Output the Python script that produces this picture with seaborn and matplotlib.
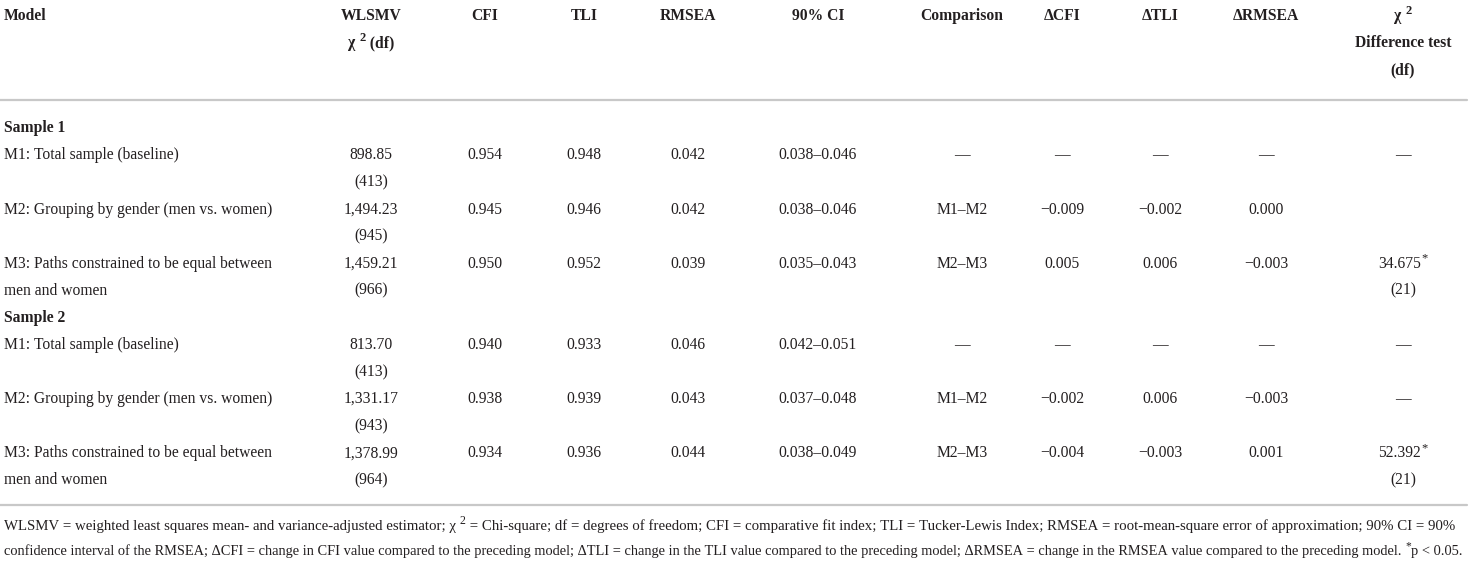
import numpy as np
import pandas as pd
import seaborn as sns
import matplotlib.pyplot as plt

# -----------------------------
# table content  ("^" marks a superscript run)
# -----------------------------
headers = [["Model"], ["WLSMV", "χ ^2^ (df)"], ["CFI"], ["TLI"], ["RMSEA"], ["90% CI"],
           ["Comparison"], ["ΔCFI"], ["ΔTLI"], ["ΔRMSEA"], ["χ ^2", "Difference test", "(df)"]]

samples = ["Sample 1", "Sample 2"]
model_l1 = ["M1: Total sample (baseline)",
            "M2: Grouping by gender (men vs. women)",
            "M3: Paths constrained to be equal between"]
model_l2 = ["", "", "men and women"]

chi2 = [["898.85", "1,494.23", "1,459.21"], ["813.70", "1,331.17", "1,378.99"]]
chi2_df = [["(413)", "(945)", "(966)"], ["(413)", "(943)", "(964)"]]
cfi = [["0.954", "0.945", "0.950"], ["0.940", "0.938", "0.934"]]
tli = [["0.948", "0.946", "0.952"], ["0.933", "0.939", "0.936"]]
rmsea = [["0.042", "0.042", "0.039"], ["0.046", "0.043", "0.044"]]
ci90 = [["0.038–0.046", "0.038–0.046", "0.035–0.043"], ["0.042–0.051", "0.037–0.048", "0.038–0.049"]]
comparison = [["—", "M1–M2", "M2–M3"], ["—", "M1–M2", "M2–M3"]]
d_cfi = [["—", "−0.009", "0.005"], ["—", "−0.002", "−0.004"]]
d_tli = [["—", "−0.002", "0.006"], ["—", "0.006", "−0.003"]]
d_rmsea = [["—", "0.000", "−0.003"], ["—", "−0.003", "0.001"]]
diff_test = [["—", "", "34.675^*"], ["—", "—", "52.392^*"]]
diff_df = [["", "", "(21)"], ["", "", "(21)"]]

footnote = [
    "WLSMV = weighted least squares mean- and variance-adjusted estimator; χ ^2^ = Chi-square; "
    "df = degrees of freedom; CFI = comparative fit index; TLI = Tucker-Lewis Index; "
    "RMSEA = root-mean-square error of approximation; 90% CI = 90%",
    "confidence interval of the RMSEA; ΔCFI = change in CFI value compared to the preceding model; "
    "ΔTLI = change in the TLI value compared to the preceding model; ΔRMSEA = change in the RMSEA "
    "value compared to the preceding model. ^*^p < 0.05.",
]

# -----------------------------
# style
# -----------------------------
sns.set_theme(style="white")
plt.rcParams["font.family"] = ["Liberation Serif", "DejaVu Serif"]
INK = "#231f20"
RULE = "#c8c8c8"
SUP = 0.8

W, H = 1471, 569
fig = plt.figure(figsize=(W / 100, H / 100), dpi=100)
ax = fig.add_axes([0, 0, 1, 1])
ax.set_xlim(0, W)
ax.set_ylim(H, 0)
ax.axis("off")
renderer = fig.canvas.get_renderer()


def split_runs(s):
    # "a^b^c" -> [("a", False), ("b", True), ("c", False)]
    return [(p, k % 2 == 1) for k, p in enumerate(s.split("^")) if p]


def width(s, fs, weight="normal"):
    t = ax.text(0, 0, s.replace(" ", "\u00a0"), fontsize=fs, fontweight=weight)
    w = t.get_window_extent(renderer).width
    t.remove()
    return w


def runs_width(s, fs, weight="normal"):
    return sum(width(p, fs * (SUP if sup else 1.0), weight) for p, sup in split_runs(s))


def draw(x, y, s, fs, ha="center", weight="normal"):
    # y is the visual row centre; text sits on a baseline below it
    runs = split_runs(s)
    sizes = [fs * (SUP if sup else 1.0) for _, sup in runs]
    ws = [width(p, f, weight) for (p, _), f in zip(runs, sizes)]
    x0 = x - sum(ws) / 2 if ha == "center" else x
    base = y + 0.34 * fs * 100 / 72
    for (p, sup), f, w in zip(runs, sizes, ws):
        yy = base - (0.38 * fs * 100 / 72 if sup else 0)
        ax.text(x0, yy, p.replace(" ", "\u00a0"), ha="left", va="baseline",
                fontsize=f, fontweight=weight, color=INK)
        x0 += w


def fit_size(s, width_px):
    fs = 10.0
    for _ in range(3):
        fs *= width_px / runs_width(s, fs)
    return fs


body_fs = fit_size(model_l1[2], 268)

col_x = [4, 371, 485, 584, 688, 818, 962, 1062, 1160, 1266, 1403]

# header
head_y = [15, 42, 69]
for i, (x, h) in enumerate(zip(col_x, headers)):
    for j, part in enumerate(h):
        draw(x, head_y[j], part, body_fs, ha="left" if i == 0 else "center", weight="bold")

ax.axhline(100, color=RULE, lw=1.6, xmin=0, xmax=1467 / W)
ax.axhline(505, color=RULE, lw=1.6, xmin=0, xmax=1467 / W)

# body rows
pitch = 27.08
y = 127
for s, sample in enumerate(samples):
    draw(4, y, sample, body_fs, ha="left", weight="bold")
    y += pitch
    for m in range(3):
        first = [model_l1[m], chi2[s][m], cfi[s][m], tli[s][m], rmsea[s][m], ci90[s][m],
                 comparison[s][m], d_cfi[s][m], d_tli[s][m], d_rmsea[s][m], diff_test[s][m]]
        second = [model_l2[m], chi2_df[s][m]] + [""] * 8 + [diff_df[s][m]]
        for i, (x, a, b) in enumerate(zip(col_x, first, second)):
            ha = "left" if i == 0 else "center"
            if a:
                draw(x, y, a, body_fs, ha=ha)
            if b:
                draw(x, y + pitch, b, body_fs, ha=ha)
        y += 2 * pitch

# footnote, each line stretched across the width like the justified original
for line, yy, right in zip(footnote, [525, 550], [1462, 1460]):
    draw(4, yy, line, fit_size(line, right - 4), ha="left")

fig.savefig("out.png", dpi=100, facecolor="white")
